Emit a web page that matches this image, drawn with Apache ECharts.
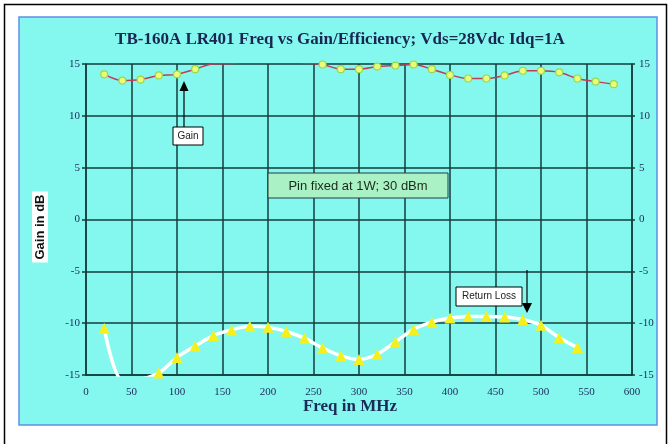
<!DOCTYPE html>
<html>
<head>
<meta charset="utf-8">
<script src="https://cdn.jsdelivr.net/npm/echarts@6/dist/echarts.min.js"></script>
<style>
  html, body { margin: 0; padding: 0; background: #fff; }
  #chart { width: 671px; height: 444px; }
</style>
</head>
<body>
<div id="chart"></div>
<script>
// frequency points (MHz)
const gainFreqs = [20, 40, 60, 80, 100, 120, 140, 160, 180, 200, 220, 240, 260, 280, 300,
  320, 340, 360, 380, 400, 420, 440, 460, 480, 500, 520, 540, 560, 580];
const gainDb = [14.0, 13.4, 13.5, 13.9, 14.0, 14.5, 15.02, 15.04, 15.3, 15.5, 15.4, 15.1, 14.95, 14.5, 14.5,
  14.75, 14.85, 14.95, 14.5, 13.95, 13.6, 13.6, 13.9, 14.35, 14.35, 14.2, 13.6, 13.3, 13.05];

const rlFreqs = [20, 40, 60, 80, 100, 120, 140, 160, 180, 200, 220, 240, 260, 280,
  300, 320, 340, 360, 380, 400, 420, 440, 460, 480, 500, 520, 540];
const returnLossDb = [-10.5, -15.5, -15.4, -14.8, -13.3, -12.2, -11.2, -10.65, -10.3, -10.4, -10.8, -11.45, -12.4, -13.15,
  -13.5, -13.0, -11.8, -10.6, -9.9, -9.5, -9.35, -9.35, -9.4, -9.65, -10.2, -11.4, -12.35];

const xTicks = { min: 0, max: 600, step: 50 };
const yTicks = { min: -15, max: 15, step: 5 };

const chart = echarts.init(document.getElementById('chart'));

const serif = 'Liberation Serif';
const sans = 'Liberation Sans';
const gridColor = '#123c3c';
const labelColor = '#1c2a58';

const option = {
  animation: false,
  backgroundColor: '#fff',
  grid: {
    left: 86, right: 39, top: 64, bottom: 69,
  },
  graphic: [
    // outer frame and cyan panel
    {
      type: 'rect', z: -10, silent: true,
      shape: { x: 4.5, y: 4.5, width: 662, height: 460 },
      style: { fill: '#fff', stroke: '#000', lineWidth: 1.5 },
    },
    {
      type: 'rect', z: -9, silent: true,
      shape: { x: 19, y: 17, width: 638, height: 408 },
      style: { fill: '#84f8ef', stroke: '#5f8fe6', lineWidth: 1.5 },
    },
    {
      type: 'text', z: 10,
      style: {
        x: 340, y: 40, text: 'TB-160A LR401 Freq vs Gain/Efficiency; Vds=28Vdc Idq=1A',
        align: 'center', verticalAlign: 'middle',
        font: `bold 17px "${serif}"`, fill: '#1a2550',
      },
    },
    // axis titles
    {
      type: 'text', z: 10,
      style: {
        x: 350, y: 407, text: 'Freq in MHz', align: 'center', verticalAlign: 'middle',
        font: `bold 17px "${serif}"`, fill: labelColor,
      },
    },
    {
      type: 'text', z: 10,
      x: 40, y: 227, rotation: Math.PI / 2,
      style: {
        x: 0, y: 0, text: 'Gain in dB', align: 'center', verticalAlign: 'middle',
        font: `bold 13px "${sans}"`, fill: '#111',
        backgroundColor: '#fff', padding: [2, 3, 1, 3],
      },
    },
    // Gain note
    {
      type: 'line', z: 10,
      shape: { x1: 184, y1: 127, x2: 184, y2: 88 },
      style: { stroke: '#000', lineWidth: 1.2 },
    },
    {
      type: 'polygon', z: 10,
      shape: { points: [[184, 81], [179.5, 91], [188.5, 91]] },
      style: { fill: '#000' },
    },
    {
      type: 'rect', z: 10,
      shape: { x: 173, y: 127, width: 30, height: 18 },
      style: { fill: '#fff', stroke: '#000', lineWidth: 1 },
    },
    {
      type: 'text', z: 11,
      style: {
        x: 188, y: 136, text: 'Gain', align: 'center', verticalAlign: 'middle',
        font: `10px "${sans}"`, fill: '#222',
      },
    },
    // Pin note
    {
      type: 'rect', z: 10,
      shape: { x: 268, y: 173, width: 180, height: 25 },
      style: { fill: '#aaf2c6', stroke: '#2a3a3a', lineWidth: 1 },
    },
    {
      type: 'text', z: 11,
      style: {
        x: 358, y: 186, text: 'Pin fixed at 1W; 30 dBm', align: 'center', verticalAlign: 'middle',
        font: `13px "${sans}"`, fill: '#1a2a1a',
      },
    },
    // Return loss note
    {
      type: 'line', z: 10,
      shape: { x1: 527, y1: 270, x2: 527, y2: 305 },
      style: { stroke: '#000', lineWidth: 1.2 },
    },
    {
      type: 'polygon', z: 10,
      shape: { points: [[527, 313], [522, 303], [532, 303]] },
      style: { fill: '#000' },
    },
    {
      type: 'rect', z: 10,
      shape: { x: 456, y: 287, width: 66, height: 19 },
      style: { fill: '#fff', stroke: '#000', lineWidth: 1 },
    },
    {
      type: 'text', z: 11,
      style: {
        x: 489, y: 296.5, text: 'Return Loss', align: 'center', verticalAlign: 'middle',
        font: `10px "${sans}"`, fill: '#222',
      },
    },
  ],
  xAxis: {
    type: 'value',
    min: xTicks.min,
    max: xTicks.max,
    interval: xTicks.step,
    axisLine: { show: true, onZero: false, lineStyle: { color: gridColor, width: 1.5 } },
    axisTick: { show: false },
    axisLabel: {
      fontFamily: serif, fontSize: 11, color: labelColor, margin: 12,
    },
    splitLine: { show: true, lineStyle: { color: gridColor, width: 1.5 } },
  },
  yAxis: [{
    type: 'value',
    min: yTicks.min,
    max: yTicks.max,
    interval: yTicks.step,
    axisLine: { show: true, lineStyle: { color: gridColor, width: 1.5 } },
    axisTick: { show: true, length: 4, lineStyle: { color: gridColor, width: 1.5 } },
    axisLabel: {
      fontFamily: serif, fontSize: 11, color: labelColor, margin: 6,
    },
    splitLine: { show: true, lineStyle: { color: gridColor, width: 1.5 } },
  }, {
    type: 'value',
    position: 'right',
    min: yTicks.min,
    max: yTicks.max,
    interval: yTicks.step,
    axisLine: { show: true, lineStyle: { color: gridColor, width: 1.5 } },
    axisTick: { show: true, length: 3, lineStyle: { color: gridColor, width: 1.5 } },
    axisLabel: {
      fontFamily: serif, fontSize: 11, color: labelColor, margin: 7,
    },
    splitLine: { show: false },
  }],
  series: [{
    name: 'Gain',
    type: 'line',
    clip: true,
    smooth: 0.3,
    data: gainFreqs.map((f, i) => [f, gainDb[i]]),
    symbol: 'circle',
    symbolSize: 7,
    z: 5,
    lineStyle: { color: '#c43a5a', width: 1.5 },
    itemStyle: { color: '#eafc7a', borderColor: '#9ad84a', borderWidth: 1.2 },
  }, {
    name: 'Return Loss',
    type: 'line',
    clip: true,
    smooth: 0.3,
    data: rlFreqs.map((f, i) => [f, returnLossDb[i]]),
    symbol: 'triangle',
    symbolSize: 11,
    z: 5,
    lineStyle: { color: '#ffffff', width: 3.5 },
    itemStyle: { color: '#f4f020', borderWidth: 0 },
  }],
};

chart.setOption(option);
</script>
</body>
</html>
